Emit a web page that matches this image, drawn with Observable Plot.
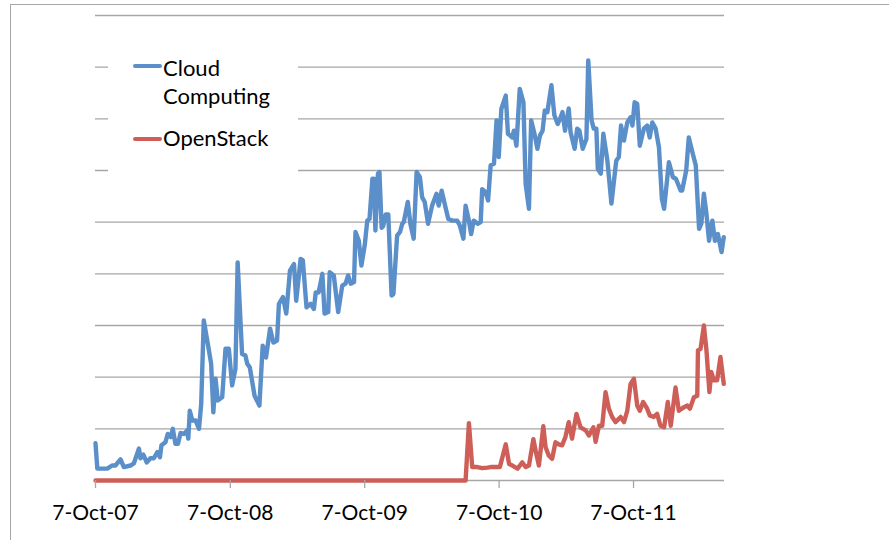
<!DOCTYPE html>
<html>
<head>
<meta charset="utf-8">
<script src="https://cdn.jsdelivr.net/npm/d3@7"></script>
<script src="https://cdn.jsdelivr.net/npm/@observablehq/plot@0.6"></script>
<style>
  body { margin: 0; background: #fff; }
  #wrap { position: relative; width: 889px; height: 540px; overflow: hidden; font-family: Lato, sans-serif; background: #fff; }
  #chart { position: absolute; left: 0; top: 0; }
  #frame { position: absolute; left: 10px; top: 4px; width: 1000px; height: 1000px; border: 1px solid #a6a6a6; box-sizing: border-box; }
  #legend { position: absolute; left: 108px; top: 40px; width: 190px; height: 145px; background: #fff; }
  .swatch { position: absolute; width: 29px; height: 4px; border-radius: 2px; }
  .ltext { position: absolute; font-size: 22px; line-height: 28px; color: #000; white-space: nowrap; }
</style>
</head>
<body>
<div id="wrap">
  <div id="chart"></div>
  <div id="frame"></div>
  <div id="legend"></div>
</div>
<script>
// Dates are day offsets from 7-Oct-2007
const startDate = "2007-10-07";
const seriesNames = ["Cloud Computing", "OpenStack"];
const seriesColors = ["#5b8fca", "#cd5f58"];
const tickDates = ["2007-10-07", "2008-10-07", "2009-10-07", "2010-10-07", "2011-10-07"];
const yTicks = [0, 10, 20, 30, 40, 50, 60, 70, 80, 90];

const cloudDays = [
  0,5,32,45,54,68,77,95,104,118,
  122,130,139,149,158,168,175,179,190,196,
  204,210,217,224,231,240,249,252,256,263,
  272,281,287,294,308,314,320,326,332,344,
  353,362,371,380,386,398,407,412,419,432,
  445,454,463,474,483,493,498,509,518,528,
  539,545,557,563,573,584,593,598,606,616,
  622,632,636,647,659,670,679,686,693,702,
  706,715,722,731,738,744,752,756,760,767,
  771,777,781,788,795,804,809,819,827,833,
  837,848,855,864,872,881,887,894,903,914,
  926,932,940,948,958,969,982,989,999,1005,
  1014,1020,1027,1038,1046,1050,1059,1066,1073,1082,
  1089,1095,1102,1114,1120,1132,1136,1143,1152,1162,
  1168,1177,1183,1192,1200,1207,1214,1220,1227,1238,
  1246,1255,1263,1268,1275,1285,1290,1301,1308,1314,
  1323,1333,1338,1347,1353,1360,1364,1372,1379,1390,
  1401,1414,1421,1427,1435,1444,1453,1458,1464,1471,
  1478,1489,1498,1505,1512,1521,1530,1538,1544,1557,
  1568,1576,1589,1593,1604,1611,1622,1630,1639,1645,
  1652,1659,1666,1675,1682,1690,1700,1706
];
const cloudValues = [
  7.2,2.3,2.3,2.9,2.9,4.1,2.6,2.9,3.3,6.2,
  4.3,5.0,3.5,4.3,4.3,5.5,4.5,6.8,7.4,9.0,
  8.4,10.0,7.1,7.1,9.2,9.0,9.7,8.1,13.5,11.6,
  11.6,10.0,14.8,31.0,25.2,22.6,13.2,19.7,15.5,16.1,
  25.5,25.5,18.4,21.6,42.2,24.5,24.2,22.6,21.9,16.4,
  14.5,26.1,23.8,29.4,26.7,27.1,34.2,35.5,32.3,40.6,
  41.9,34.8,42.9,42.6,33.5,34.2,33.2,36.4,36.4,40.0,
  32.3,32.6,40.3,39.7,32.6,37.7,38.1,39.7,38.1,38.4,
  48.1,46.4,41.6,45.5,50.3,50.6,58.4,58.4,48.4,59.4,
  59.7,48.9,49.2,51.5,51.5,35.8,36.1,47.4,48.1,49.7,
  50.0,53.9,49.7,46.8,59.7,58.7,54.8,53.9,49.7,53.2,
  55.5,53.2,56.1,53.6,50.6,50.3,50.3,49.4,46.8,53.2,
  50.3,47.7,50.3,49.7,50.0,56.4,55.8,54.2,61.0,61.3,
  69.7,62.6,71.9,74.5,67.1,66.4,67.7,64.8,75.8,73.2,
  57.4,52.6,69.7,67.1,64.2,66.8,67.7,71.6,71.3,76.5,
  70.7,69.0,70.3,71.3,67.7,72.0,67.4,64.2,68.1,67.7,
  64.2,66.1,81.3,69.7,68.1,68.1,60.3,59.4,67.1,61.9,
  53.6,61.9,62.6,68.7,65.8,69.3,70.3,68.7,73.2,72.9,
  64.8,68.1,68.7,66.4,69.3,68.1,64.5,54.5,52.6,61.6,
  58.7,58.4,56.1,56.1,60.0,66.4,63.2,61.0,48.7,49.7,
  55.5,51.6,46.4,50.3,46.4,47.7,44.2,47.1
];

const openDays = [
  0,1005,1014,1023,1037,1050,1064,1073,1098,1114,
  1123,1132,1146,1159,1168,1177,1189,1195,1204,1216,
  1222,1231,1240,1249,1258,1267,1276,1285,1294,1306,
  1317,1331,1340,1352,1358,1367,1376,1385,1394,1403,
  1412,1426,1435,1444,1453,1462,1471,1478,1487,1498,
  1505,1516,1525,1534,1544,1554,1562,1575,1584,1598,
  1607,1614,1625,1634,1636,1643,1652,1659,1667,1672,
  1679,1688,1697,1706
];
const openValues = [
  0,0,11.1,2.6,2.6,2.4,2.5,2.6,2.6,7.0,
  3.2,2.9,2.3,3.5,2.6,2.9,8.0,5.8,2.9,10.5,
  6.5,4.8,4.2,7.4,7.0,6.8,8.4,11.3,8.1,12.9,
  10.3,9.7,8.7,10.3,7.5,10.6,10.6,17.1,13.9,12.3,
  11.3,12.3,11.3,13.5,18.7,19.7,14.5,13.5,15.2,13.9,
  12.6,12.3,12.9,10.6,10.3,15.2,10.6,18.0,13.5,14.2,
  14.5,13.9,16.1,16.4,25.2,25.5,30.0,25.2,17.1,21.0,
  19.4,19.4,23.9,18.7
];
const endDay = 1708;

const start = new Date(startDate);
const toRows = (days, vals, name) =>
  days.slice(0, Math.min(days.length, vals.length)).map((d, i) => ({
    date: d3.utcDay.offset(start, d), value: vals[i], series: name
  }));
const cloud = toRows(cloudDays, cloudValues, seriesNames[0]);
const open = toRows(openDays, openValues, seriesNames[1]);

const chart = Plot.plot({
  width: 889,
  height: 540,
  marginLeft: 95,
  marginRight: 165,
  marginTop: 15,
  marginBottom: 60,
  style: { fontFamily: "Lato, sans-serif", fontSize: "21px", color: "#000", background: "transparent", overflow: "visible" },
  x: { type: "utc", domain: [start, d3.utcDay.offset(start, endDay)] },
  y: { domain: [0, 90] },
  marks: [
    Plot.gridY(yTicks, { stroke: "#a6a6a6", strokeOpacity: 1, strokeWidth: 1.3 }),
    Plot.line(cloud, { x: "date", y: "value", stroke: seriesColors[0], strokeWidth: 4.4, strokeLinejoin: "round", strokeLinecap: "round" }),
    Plot.line(open, { x: "date", y: "value", stroke: seriesColors[1], strokeWidth: 4.4, strokeLinejoin: "round", strokeLinecap: "round" }),
    Plot.axisX(tickDates.map(d => new Date(d)), {
      tickSize: 8, tickPadding: 17, stroke: "#a6a6a6", strokeWidth: 1.3, fill: "#000",
      fontSize: 21, tickFormat: d3.utcFormat("%-d-%b-%y"), label: null
    }),
    Plot.axisY({ ticks: [], label: null })
  ]
});
document.getElementById("chart").appendChild(chart);

// Legend (inside the plot area, white box)
const legend = document.getElementById("legend");
const items = [
  { name: "Cloud\nComputing", color: seriesColors[0], swY: 24, txtY: 13.5 },
  { name: "OpenStack", color: seriesColors[1], swY: 97, txtY: 84 }
];
items.forEach(it => {
  const sw = document.createElement("div");
  sw.className = "swatch";
  sw.style.left = "25px";
  sw.style.top = (it.swY) + "px";
  sw.style.background = it.color;
  legend.appendChild(sw);
  const tx = document.createElement("div");
  tx.className = "ltext";
  tx.style.left = "55px";
  tx.style.top = it.txtY + "px";
  tx.innerHTML = it.name.split("\n").join("<br>");
  legend.appendChild(tx);
});
</script>
</body>
</html>
